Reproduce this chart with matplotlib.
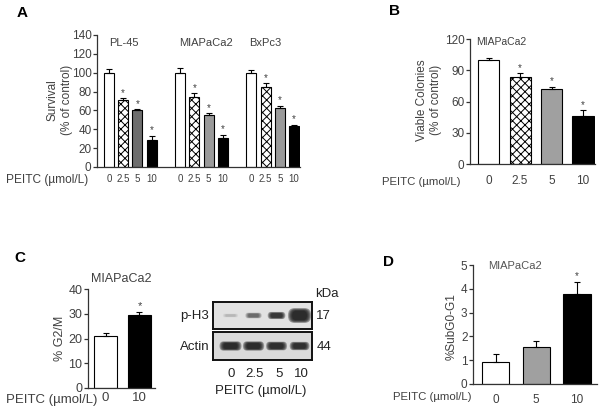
import matplotlib
matplotlib.use("Agg")
import matplotlib.pyplot as plt
from matplotlib.patches import FancyBboxPatch

plt.rcParams['font.family'] = ['Liberation Sans', 'DejaVu Sans']
plt.rcParams['hatch.linewidth'] = 0.7

# ---------------- data ----------------
doses_A = ["0", "2.5", "5", "10"]
groups_A = ["PL-45", "MIAPaCa2", "BxPc3"]
pl45_vals = [100, 71, 60, 29]
pl45_err = [4, 2, 1, 4]
mia_vals = [100, 74, 55, 31]
mia_err = [5, 4, 2, 3]
bxpc3_vals = [100, 85, 63, 43]
bxpc3_err = [3, 4, 2, 2]
sig_A = [False, True, True, True]

doses_B = ["0", "2.5", "5", "10"]
colonies_vals = [100, 84, 72, 46.5]
colonies_err = [2, 3, 2, 5]
sig_B = [False, True, True, True]

doses_C = ["0", "10"]
g2m_vals = [21, 29.5]
g2m_err = [1.3, 1.2]
sig_C = [False, True]

blot_lanes = ["0", "2.5", "5", "10"]
ph3_intensity = [0.12, 0.45, 0.85, 1.0]
ph3_width = [0.6, 0.65, 0.7, 0.92]
ph3_height = [0.12, 0.19, 0.24, 0.5]
actin_intensity = [0.97, 0.97, 0.95, 0.92]
actin_width = [0.87, 0.84, 0.83, 0.78]
actin_height = [0.3, 0.3, 0.28, 0.27]

doses_D = ["0", "5", "10"]
subg1_vals = [0.92, 1.55, 3.8]
subg1_err = [0.33, 0.25, 0.5]
sig_D = [False, False, True]

# ---------------- figure ----------------
W, H = 602, 412
fig = plt.figure(figsize=(W / 100, H / 100), dpi=100)
TXT = '#404040'


def ax_px(l, t, r, b):
    return fig.add_axes([l / W, 1 - b / H, (r - l) / W, (b - t) / H])


def ftext(x, y, s, **kw):
    kw.setdefault('color', TXT)
    kw.setdefault('ha', 'center')
    kw.setdefault('va', 'center')
    return fig.text(x / W, 1 - y / H, s, **kw)


def style(ax, ysize):
    for s in ['top', 'right']:
        ax.spines[s].set_visible(False)
    for s in ['left', 'bottom']:
        ax.spines[s].set_linewidth(0.9)
        ax.spines[s].set_color('#333333')
    ax.tick_params(axis='y', direction='out', length=3, width=0.9,
                   labelsize=ysize, labelcolor=TXT, pad=1, color='#333333')
    ax.tick_params(axis='x', length=0, labelcolor=TXT)


def bars(ax, xs, vals, errs, sigs, colors, hatches, width, star_size, star_off):
    for x, v, e, s, c, h in zip(xs, vals, errs, sigs, colors, hatches):
        ax.bar(x, v, width=width, color=c, edgecolor='black', linewidth=0.8,
               hatch=h, zorder=2)
        ax.errorbar(x, v, yerr=[[0], [e]], fmt='none', ecolor='black',
                    elinewidth=0.8, capsize=2.5, capthick=0.8, zorder=3)
        if s:
            ax.text(x, v + e + star_off, '*', ha='center', va='bottom',
                    fontsize=star_size, color=TXT)


# ---------------- Panel A ----------------
axA = ax_px(97, 35, 300, 167)
style(axA, 8.5)
xsA = [0, 1, 2, 3, 5, 6, 7, 8, 10, 11, 12, 13]
valsA = pl45_vals + mia_vals + bxpc3_vals
errsA = pl45_err + mia_err + bxpc3_err
sigsA = sig_A * 3
colsA = ['white', 'white', '#6e6e6e', 'black',
         'white', 'white', '#9a9a9a', 'black',
         'white', 'white', '#9a9a9a', 'black']
hatA = [None, 'xxxx', None, None] * 3
bars(axA, xsA, valsA, errsA, sigsA, colsA, hatA, 0.70, 7, 0.5)
axA.set_xlim(-0.84, 13.42)
axA.set_ylim(0, 140)
axA.set_yticks(range(0, 141, 20))
axA.set_xticks(xsA)
axA.set_xticklabels(doses_A * 3, fontsize=7)
axA.tick_params(axis='x', pad=5)
for gx, gname in zip([1.05, 6.8, 10.96], groups_A):
    axA.text(gx, 132, gname, ha='center', va='center', fontsize=8, color=TXT)
ftext(47, 179.5, "PEITC (µmol/L)", fontsize=8.6)
ftext(60, 100, "Survival\n(% of control)", fontsize=8.5, rotation=90,
      linespacing=1.25)
ftext(22, 13, "A", fontsize=11, fontweight='bold', color='black')

# ---------------- Panel B ----------------
axB = ax_px(470, 39, 595, 164)
style(axB, 8.5)
xsB = list(range(4))
bars(axB, xsB, colonies_vals, colonies_err, sig_B,
     ['white', 'white', '#a0a0a0', 'black'], [None, 'xxxx', None, None],
     0.67, 7, 0.5)
axB.set_xlim(-0.59, 3.38)
axB.set_ylim(0, 120)
axB.set_yticks(range(0, 121, 30))
axB.set_xticks(xsB)
axB.set_xticklabels(doses_B, fontsize=8.5)
axB.tick_params(axis='x', pad=8)
axB.text(0.4, 117, "MIAPaCa2", ha='center', va='center', fontsize=7.5, color=TXT)
ftext(421, 182, "PEITC (µmol/L)", fontsize=8.2)
ftext(429, 100, "Viable Colonies\n(% of control)", fontsize=8.5, rotation=90,
      linespacing=1.2)
ftext(395, 11, "B", fontsize=11, fontweight='bold', color='black')

# ---------------- Panel C (bars) ----------------
axC = ax_px(88, 289, 155, 388)
style(axC, 9)
xsC = [0, 1]
bars(axC, xsC, g2m_vals, g2m_err, sig_C, ['white', 'black'], [None, None],
     0.68, 8, 0.3)
axC.set_xlim(-0.515, 1.456)
axC.set_ylim(0, 40)
axC.set_yticks(range(0, 41, 10))
axC.set_xticks(xsC)
axC.set_xticklabels(doses_C, fontsize=9.5)
axC.tick_params(axis='x', pad=3)
ftext(121, 279, "MIAPaCa2", fontsize=9)
ftext(52, 400, "PEITC (µmol/L)", fontsize=9.5)
ftext(60, 338, "% G2/M", fontsize=9, rotation=90)
ftext(20, 258, "C", fontsize=11, fontweight='bold', color='black')


# ---------------- Panel C (blot) ----------------
def blot(l, t, r, b, intens, widths, heights, bg):
    ax = ax_px(l, t, r, b)
    ax.set_xlim(-0.76, 3.54)
    ax.set_ylim(-0.5, 0.5)
    ax.set_facecolor(bg)
    ax.set_xticks([])
    ax.set_yticks([])
    for s in ax.spines.values():
        s.set_linewidth(1.4)
        s.set_color('#111111')
    for i, (a, w, h) in enumerate(zip(intens, widths, heights)):
        n = 5
        for k in range(n):
            f = 1.1 - k * 0.1
            ww, hh = w * f, h * f
            r = min(ww, hh) / 2
            ax.add_patch(FancyBboxPatch(
                (i - ww / 2 + r, -hh / 2 + r), ww - 2 * r, hh - 2 * r,
                boxstyle=f"round,pad={r:.4f}", facecolor='#151515',
                edgecolor='none', alpha=min(1, a * 0.35)))
    return ax


blot(213, 302, 312, 329, ph3_intensity, ph3_width, ph3_height, '#e2e2e2')
blot(213, 332, 312, 360, actin_intensity, actin_width, actin_height, '#dadada')
ftext(195, 316, "p-H3", fontsize=9.5, color='#222222')
ftext(195, 347, "Actin", fontsize=9.5, color='#222222')
ftext(327, 294, "kDa", fontsize=9.5, color='#222222')
ftext(323, 316, "17", fontsize=9.5, color='#222222')
ftext(324, 347, "44", fontsize=9.5, color='#222222')
for xp, lab in zip([231, 255, 279, 301], blot_lanes):
    ftext(xp, 374, lab, fontsize=9.5, color='#222222')
ftext(261, 391, "PEITC (µmol/L)", fontsize=9.5, color='#222222')

# ---------------- Panel D ----------------
axD = ax_px(473, 265, 597, 384)
style(axD, 8.5)
xsD = [0, 1, 2]
bars(axD, xsD, subg1_vals, subg1_err, sig_D, ['white', '#a0a0a0', 'black'],
     [None, None, None], 0.675, 7, 0.03)
axD.set_xlim(-0.552, 2.49)
axD.set_ylim(0, 5)
axD.set_yticks(range(0, 6))
axD.set_xticks(xsD)
axD.set_xticklabels(doses_D, fontsize=8.5)
axD.tick_params(axis='x', pad=7)
axD.text(0.48, 4.97, "MIAPaCa2", ha='center', va='center', fontsize=8, color='#555555')
ftext(432, 397, "PEITC (µmol/L)", fontsize=8.2)
ftext(452, 327, "%SubG0-G1", fontsize=8.5, rotation=90)
ftext(389, 262, "D", fontsize=11, fontweight='bold', color='black')

fig.savefig("out.png", dpi=100)
